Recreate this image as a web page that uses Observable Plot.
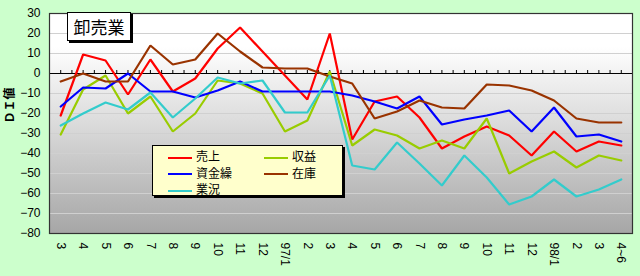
<!DOCTYPE html>
<html>
<head>
<meta charset="utf-8">
<script src="https://cdn.jsdelivr.net/npm/d3@7"></script>
<script src="https://cdn.jsdelivr.net/npm/@observablehq/plot@0.6"></script>
<style>
  html, body { margin: 0; padding: 0; background: #ccffcc; }
  #wrap { position: relative; width: 640px; height: 276px; background: #ccffcc; overflow: hidden; }
  #title { position: absolute; left: 67px; top: 12px; width: 62px; height: 27px; background: #fff;
    border: 1px solid #000; box-shadow: 2px 2px 0 #000; font: 17px "Noto Sans CJK JP", sans-serif;
    line-height: 27px; text-align: center; }
  #legend { position: absolute; left: 152px; top: 145px; width: 189px; height: 49px; background: #ffffcc;
    border: 1px solid #000; box-shadow: 2px 2px 0 #000; font: 12px "Noto Sans CJK JP", sans-serif; }
  .item { position: absolute; height: 14px; line-height: 14px; white-space: nowrap; }
  .item span.sw { display: inline-block; width: 24px; height: 2px; vertical-align: middle; margin-right: 4px; }
</style>
</head>
<body>
<div id="wrap"></div>
<script>
const labels = ["3","4","5","6","7","8","9","10","11","12","97/1","2","3","4","5","6","7","8","9","10","11","12","98/1","2","3","4~6"];
const seriesNames = ["売上","収益","資金繰","在庫","業況"];
const seriesColors = ["#ff0000","#99cc00","#0000ff","#993300","#33cccc"];
const uriage   = [-21, 9.5, 6.5, -10.5, 7, -9, -2.5, 12.5, 23, 11, -1, -13, 20, -33, -14, -11.5, -22, -37.5, -31.5, -26.5, -31, -41, -29, -39, -34, -36];
const shueki   = [-30.5, -8, -1, -20, -11.5, -29, -20, -3.5, -5, -10, -29, -23.5, 1, -36, -28, -31, -37.5, -33.5, -37.5, -22.5, -50, -44, -39, -47, -41, -43.5];
const shikin   = [-16.5, -7, -7.5, 0, -9, -9, -12, -8.5, -4, -9, -9, -9, -9, -11, -14, -17.5, -11.5, -25.5, -23, -21, -18.5, -29, -17, -31.5, -30.5, -34];
const zaiko    = [-4, 0, -4, -4, 14, 4.5, 7, 20, 11, 3, 2.5, 2.5, -1.5, -5, -22.5, -19, -13.5, -17, -17.5, -5.5, -6, -8.5, -13.5, -22.5, -24.5, -24.5];
const gyokyo   = [-26, -20, -14.5, -18, -9.5, -22, -12.5, -2, -5, -3.5, -19.5, -19.5, -1, -46, -48, -34.5, -45, -56, -41, -52, -65.5, -61.5, -53, -61.5, -58, -53];
const yTicks = [30, 20, 10, 0, -10, -20, -30, -40, -50, -60, -70, -80];

const seriesValues = [uriage, shueki, shikin, zaiko, gyokyo];
const rows = [];
seriesNames.forEach((name, s) => seriesValues[s].forEach((v, i) => rows.push({series: name, i, v})));
const idx = d3.range(labels.length);
const tickPos = d3.range(0, labels.length - 0.5 + 0.01, 0.5);

const defs = () => {
  const svgNS = "http://www.w3.org/2000/svg";
  const d = document.createElementNS(svgNS, "defs");
  d.innerHTML = `<linearGradient id="bg" x1="0" y1="0" x2="0" y2="1">
    <stop offset="0" stop-color="#ffffff"/>
    <stop offset="0.15" stop-color="#ffffff"/>
    <stop offset="0.45" stop-color="#e0e0e0"/>
    <stop offset="1" stop-color="#a6a6a6"/>
  </linearGradient>`;
  return d;
};

const chart = Plot.plot({
  width: 640, height: 276,
  marginLeft: 49, marginRight: 8, marginTop: 13, marginBottom: 43,
  style: {background: "transparent", fontFamily: "'Liberation Sans', Arial, sans-serif", fontSize: "12px", color: "#000"},
  x: {type: "linear", domain: [-0.5, labels.length - 0.5], axis: null, label: null},
  y: {domain: [-80, 30], axis: null, label: null},
  color: {domain: seriesNames, range: seriesColors},
  marks: [
    defs,
    Plot.frame({fill: "url(#bg)"}),
    Plot.gridY(yTicks, {stroke: "#d0d0d0", strokeOpacity: 1}),
    Plot.ruleY([0], {stroke: "#000", strokeWidth: 1}),
    Plot.ruleX(tickPos, {y1: 0, y2: 1.5, stroke: "#000"}),
    Plot.line(rows, {x: "i", y: "v", z: "series", stroke: "series", strokeWidth: 2.2, strokeLinejoin: "miter"}),
    Plot.frame({stroke: "#333", strokeWidth: 1.2}),
    Plot.axisY(yTicks, {tickSize: 0, tickPadding: 9, fontSize: 12, label: null}),
    Plot.axisX(idx, {tickSize: 0, tickRotate: 90, tickPadding: 9, fontSize: 12, label: null, tickFormat: i => labels[i]}),
    Plot.text(["ＤＩ値"], {frameAnchor: "left", dx: -39, rotate: -90, fontSize: 12, fontWeight: "bold", fontFamily: "'Noto Sans CJK JP', sans-serif"})
  ]
});

const wrap = document.getElementById("wrap");
wrap.appendChild(chart);

const title = document.createElement("div");
title.id = "title";
title.textContent = "卸売業";
wrap.appendChild(title);

const legend = document.createElement("div");
legend.id = "legend";
const legendPos = [[15, 3], [111, 3], [15, 19.5], [111, 19.5], [15, 36]];
seriesNames.forEach((name, s) => {
  const it = document.createElement("div");
  it.className = "item";
  it.style.left = legendPos[s][0] + "px";
  it.style.top = (legendPos[s][1]) + "px";
  it.innerHTML = `<span class="sw" style="background:${seriesColors[s]}"></span>${name}`;
  legend.appendChild(it);
});
wrap.appendChild(legend);
</script>
</body>
</html>
